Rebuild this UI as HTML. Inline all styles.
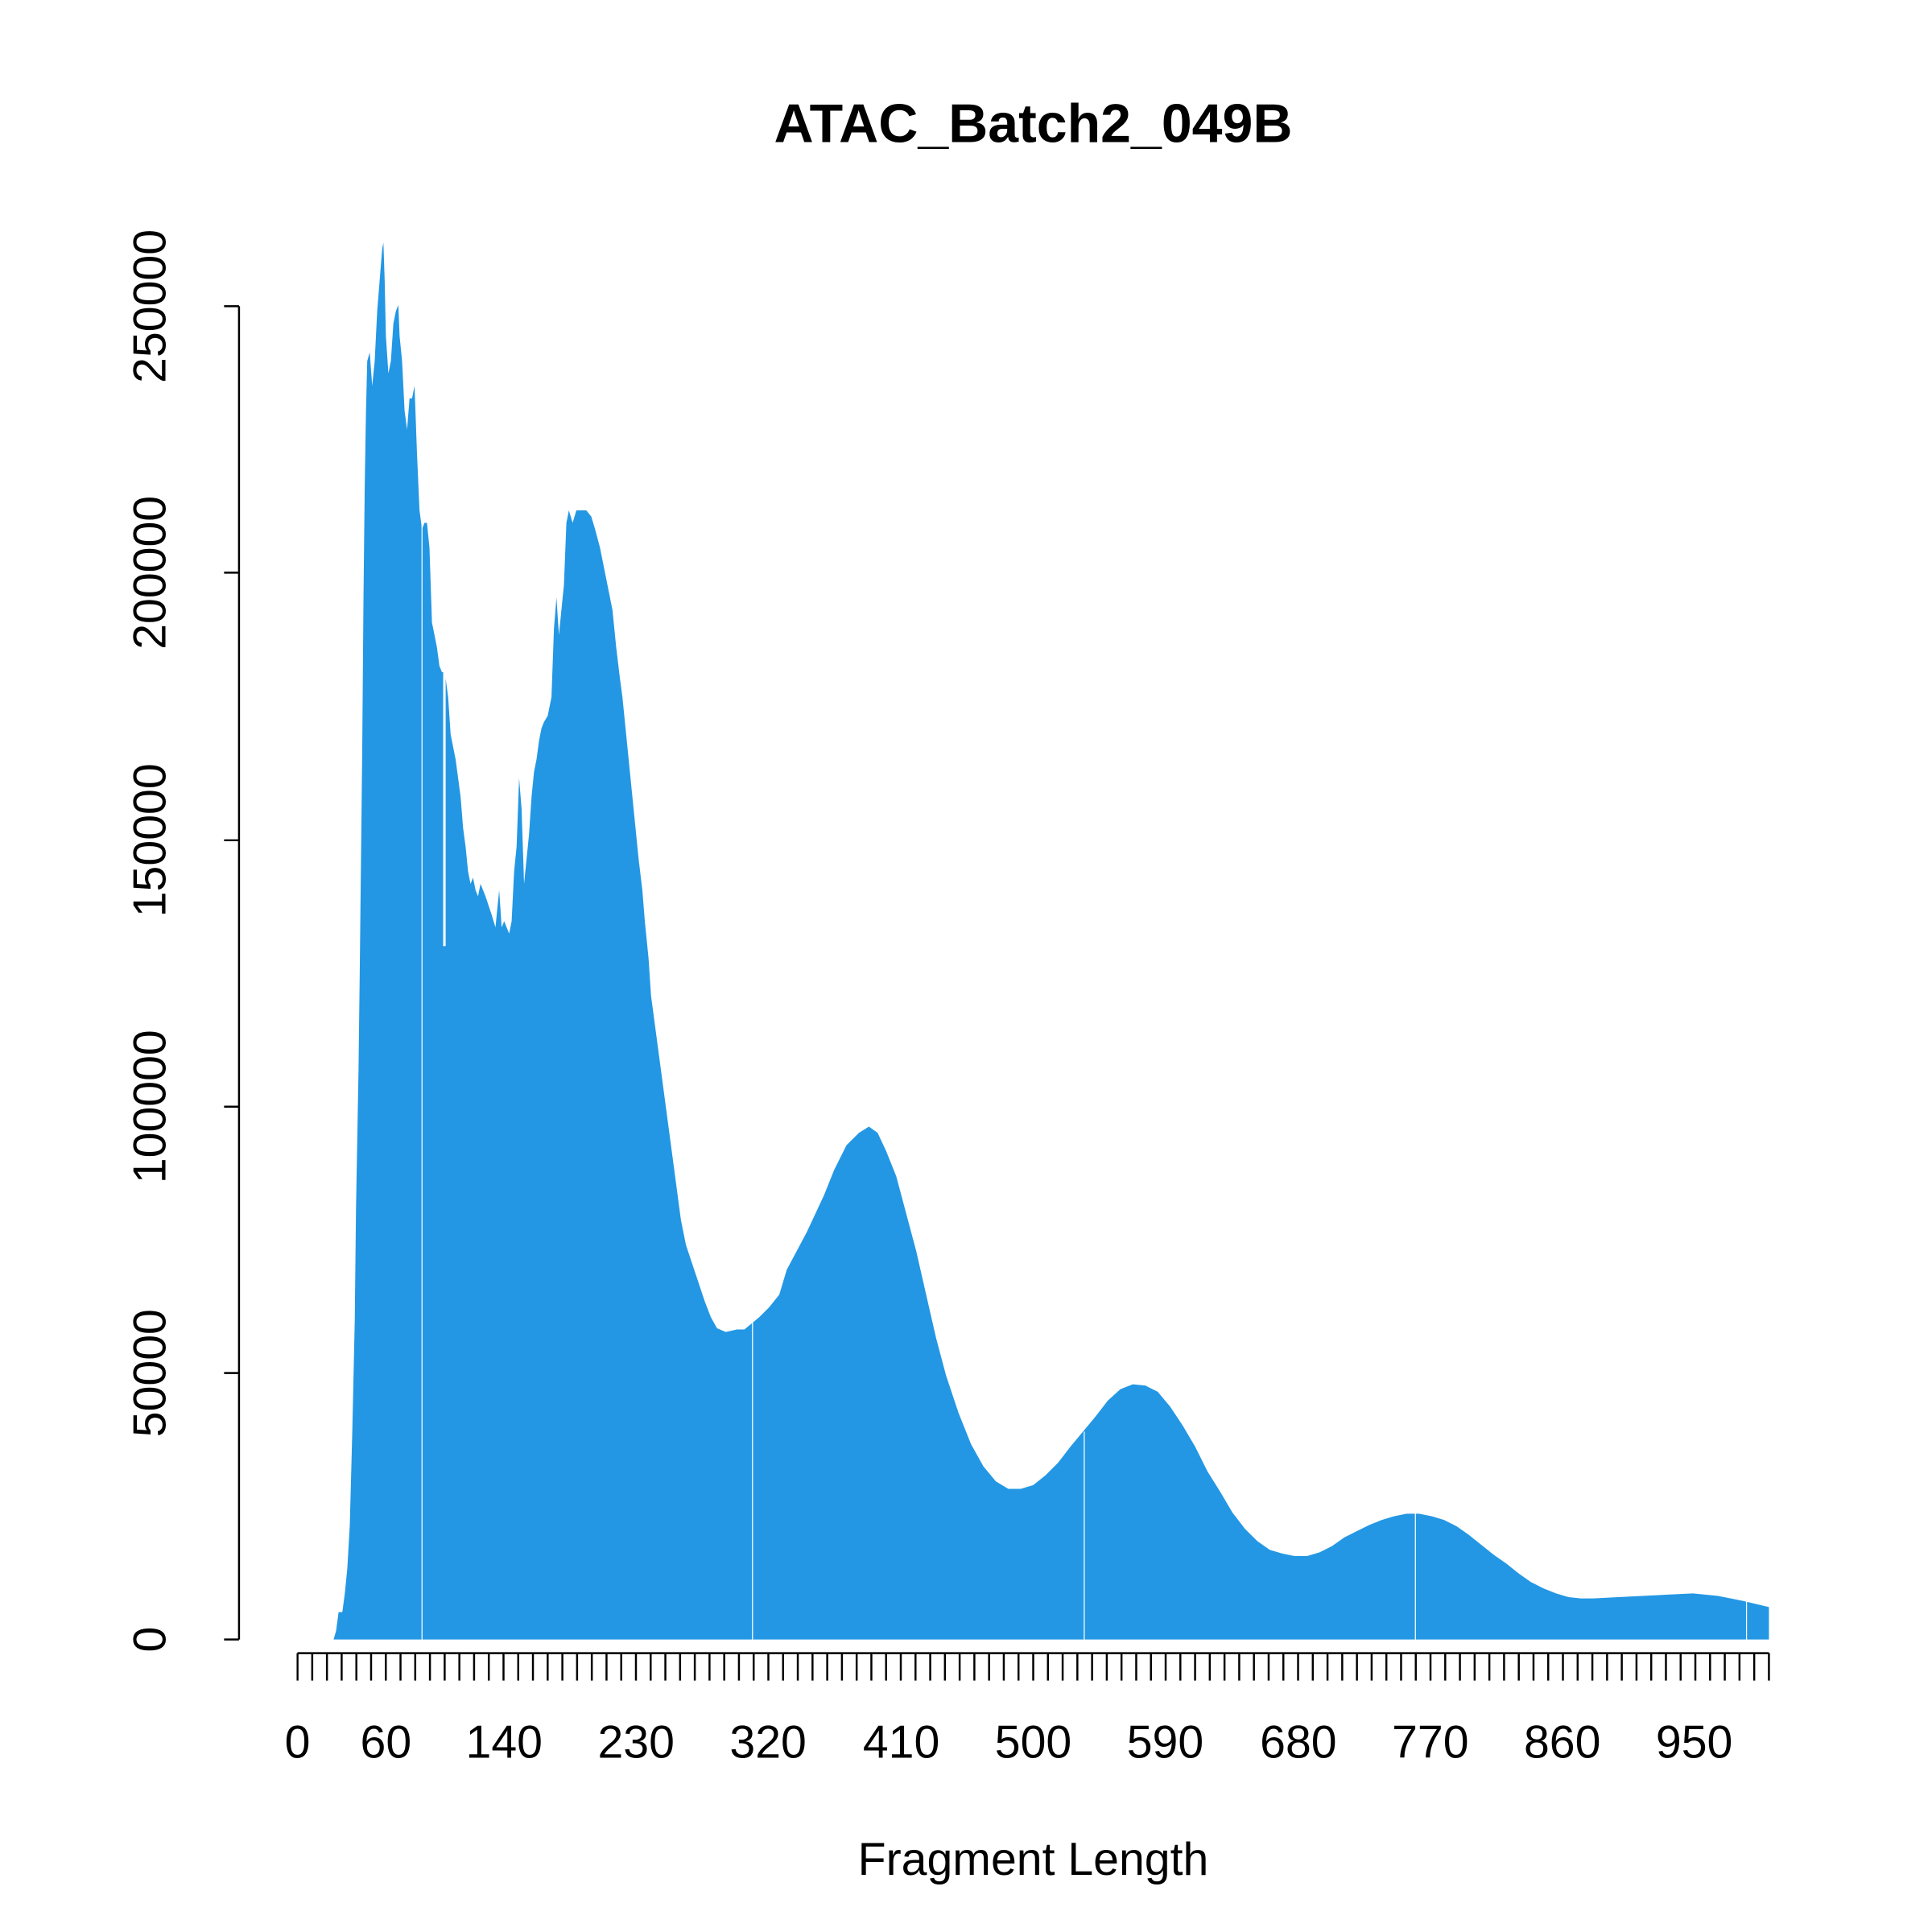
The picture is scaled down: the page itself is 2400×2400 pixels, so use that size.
<!DOCTYPE html>
<html><head><meta charset="utf-8"><style>html,body{margin:0;padding:0;background:#fff}svg{display:block}</style></head><body>
<svg width="2400" height="2400" viewBox="0 0 1552 1552" xmlns="http://www.w3.org/2000/svg" font-family="Liberation Sans, sans-serif">
<defs>
<pattern id="tk" x="238.2" y="0" width="11.82" height="1552" patternUnits="userSpaceOnUse">
<rect x="0" y="0" width="1.6" height="1552" fill="#000"/>
</pattern>
</defs>
<rect width="1552" height="1552" fill="#fff"/>
<text x="830" y="114" font-size="44" font-weight="bold" text-anchor="middle">ATAC_Batch2_049B</text>
<polygon fill="#2397E4" points="268,1317 270,1310 272,1295 275,1295 277,1280 279,1260 281,1225 283,1150 285,1060 286,970 288,860 289,780 290,690 291,600 292,480 293,390 294,330 295,290 297,283 299,310 301,290 303,250 305,225 307,200 308,195 309,225 310,270 312,300 314,290 316,260 318,250 320,245 321,270 323,290 325,330 327,345 329,320 331,320 333,310 335,365 337,410 339,425 341,420 343,420 345,440 347,500 349,510 351,520 353,535 355,540 356,540 356,760 358,760 358,545 360,560 362,590 364,600 366,610 368,625 370,640 372,665 374,680 376,700 378,710 380,705 382,715 384,720 386,710 390,720 395,735 398,745 401,715 403,745 405,740 409,750 411,740 413,700 415,680 417,625 419,650 421,710 423,690 425,670 427,640 429,620 431,610 433,595 435,585 437,580 440,575 443,560 445,505 447,480 449,510 451,490 453,470 455,420 457,410 460,420 463,410 467,410 471,410 475,415 478,425 482,440 486,460 489,475 492,490 495,520 498,545 500,560 503,590 505,610 508,640 510,660 513,690 516,715 518,740 521,770 523,800 527,830 531,860 535,890 539,920 543,950 547,980 551,1000 556,1015 561,1030 566,1045 571,1058 576,1067 583,1070 592,1068 598,1068 604,1063 610,1058 618,1050 626,1040 632,1020 640,1005 648,990 655,975 662,960 670,940 680,920 690,910 698,905 705,910 712,925 720,945 728,975 736,1005 744,1040 752,1075 760,1105 770,1135 780,1160 790,1178 800,1190 810,1196 820,1196 830,1193 840,1185 850,1175 860,1162 870,1150 880,1138 890,1125 900,1116 910,1112 920,1113 930,1118 940,1130 950,1145 960,1162 970,1182 980,1198 990,1215 1000,1228 1010,1238 1020,1245 1030,1248 1040,1250 1050,1250 1060,1247 1070,1242 1080,1235 1090,1230 1100,1225 1110,1221 1120,1218 1130,1216 1140,1216 1150,1218 1160,1221 1170,1226 1180,1233 1190,1241 1200,1249 1210,1256 1220,1264 1230,1271 1240,1276 1250,1280 1260,1283 1270,1284 1280,1284 1300,1283 1320,1282 1340,1281 1360,1280 1380,1282 1400,1286 1421,1291 1421,1317"/>
<g stroke="#fff" stroke-width="0.8">
<line x1="339" y1="420" x2="339" y2="1317"/><line x1="604.5" y1="1060" x2="604.5" y2="1317"/><line x1="871" y1="1150" x2="871" y2="1317"/><line x1="1137" y1="1210" x2="1137" y2="1317"/><line x1="1403" y1="1280" x2="1403" y2="1317"/>
</g>
<g stroke="#000" stroke-width="1.6" fill="none">
<line x1="192" y1="246" x2="192" y2="1317"/>
<line x1="180" y1="1317" x2="192" y2="1317"/><line x1="180" y1="1103" x2="192" y2="1103"/><line x1="180" y1="889" x2="192" y2="889"/><line x1="180" y1="675" x2="192" y2="675"/><line x1="180" y1="460" x2="192" y2="460"/><line x1="180" y1="246" x2="192" y2="246"/>
<line x1="239" y1="1328" x2="1421" y2="1328"/>
</g>
<rect x="238.2" y="1328" width="1184" height="22" fill="url(#tk)"/>
<g font-size="37" text-anchor="middle">
<text transform="translate(133,1317) rotate(-90)">0</text>
<text transform="translate(133,1103) rotate(-90)">50000</text>
<text transform="translate(133,889) rotate(-90)">100000</text>
<text transform="translate(133,675) rotate(-90)">150000</text>
<text transform="translate(133,460) rotate(-90)">200000</text>
<text transform="translate(133,246) rotate(-90)">250000</text>
<text x="239" y="1412">0</text><text x="310" y="1412">60</text><text x="405" y="1412">140</text><text x="511" y="1412">230</text><text x="617" y="1412">320</text><text x="724" y="1412">410</text><text x="830" y="1412">500</text><text x="936" y="1412">590</text><text x="1043" y="1412">680</text><text x="1149" y="1412">770</text><text x="1255" y="1412">860</text><text x="1361" y="1412">950</text>
<text x="830" y="1506">Fragment Length</text>
</g>
</svg>
</body></html>
